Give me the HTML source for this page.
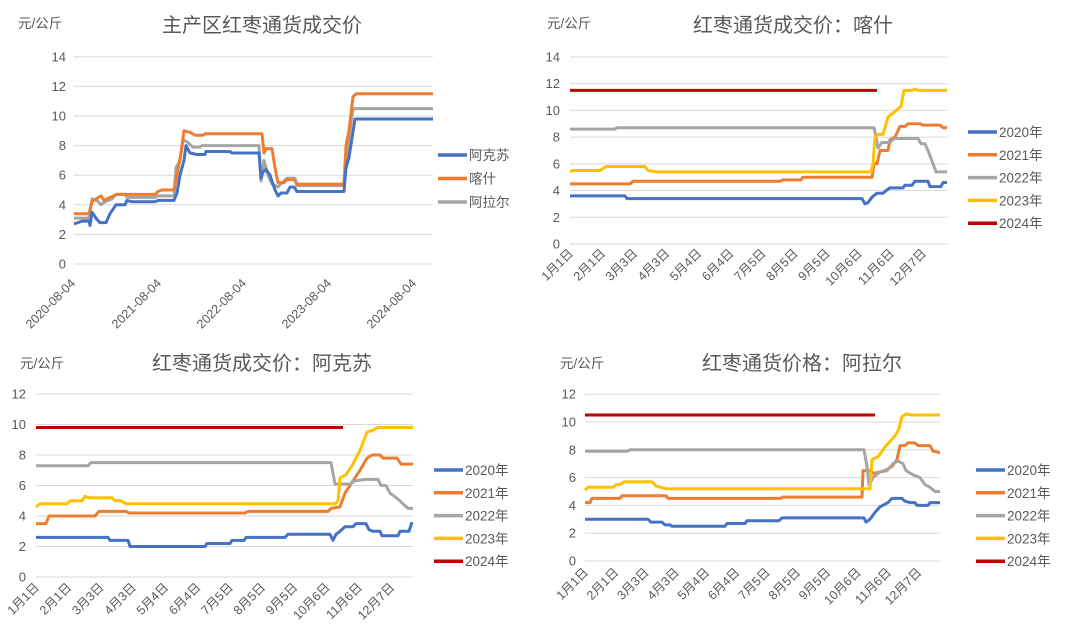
<!DOCTYPE html>
<html><head><meta charset="utf-8"><style>
html,body{margin:0;padding:0;background:#fff;}
svg{display:block;}
text{font-family:"Liberation Sans","Noto Sans CJK SC",sans-serif;fill:#595959;}
</style></head><body>
<svg id="s" width="1080" height="629" xmlns="http://www.w3.org/2000/svg"></svg>
<script>
const S=document.getElementById('s');const NS='http://www.w3.org/2000/svg';
function el(t,a,txt){const e=document.createElementNS(NS,t);for(const k in a)e.setAttribute(k,a[k]);if(txt!==undefined)e.textContent=txt;S.appendChild(e);return e;}
const C={b:'#4472c4',o:'#ed7d31',g:'#a5a5a5',y:'#ffc000',r:'#c00000'};
function panel(p){
  const {x0,x1,y0,pu,ymax,lblX}=p;
  for(let v=0;v<=ymax;v+=2){const y=y0-v*pu;el('line',{x1:x0,x2:x1,y1:y,y2:y,stroke:'#d9d9d9','stroke-width':1});
    el('text',{x:lblX,y:y+4.5,'font-size':13,'text-anchor':'end'},String(v));}
  el('text',{x:p.ux,y:p.uy,'font-size':13.5},'元/公斤');
  el('text',{x:p.tx,y:p.ty,'font-size':20,'text-anchor':'middle',fill:'#595959'},p.title);
  p.xl.forEach(([x,t])=>{el('text',{x:x,y:p.xly,'font-size':12.5,'text-anchor':'end',transform:`rotate(-45 ${x} ${p.xly})`},t);});
  p.series.forEach(([c,pts])=>{el('polyline',{points:pts.map(([x,v])=>x+','+(y0-v*pu).toFixed(1)).join(' '),fill:'none',stroke:C[c],'stroke-width':3,'stroke-linejoin':'round'});});
  p.leg.forEach(([c,t],i)=>{const y=p.ly+i*p.ld;el('line',{x1:p.lx,x2:p.lx+29,y1:y,y2:y,stroke:C[c],'stroke-width':3.5});el('text',{x:p.lx+31,y:y+5,'font-size':13.5},t);});
}
const months=['1月1日','2月1日','3月3日','4月3日','5月4日','6月4日','7月5日','8月5日','9月5日','10月6日','11月6日','12月7日'];
function ml(x0,step){return months.map((m,i)=>[x0+i*step+4,m]);}
const yrs=[['b','2020年'],['o','2021年'],['g','2022年'],['y','2023年'],['r','2024年']];
panel({x0:74,x1:433,y0:264,pu:14.8,ymax:14,lblX:66,ux:18,uy:28,tx:262,ty:32,title:'主产区红枣通货成交价',xly:284,
 xl:[[74,'2020-08-04'],[160,'2021-08-04'],[245,'2022-08-04'],[330,'2023-08-04'],[415,'2024-08-04']].map(([x,t])=>[x+2,t]),
 lx:438,ly:155,ld:23.5,leg:[['b','阿克苏'],['o','喀什'],['g','阿拉尔']],
 series:[
 ['g',[[74,3.1],[89,3.1],[92,4.4],[97,4.3],[101,4.0],[105,4.2],[112,4.4],[116,4.7],[125,4.7],[127,4.5],[155,4.5],[158,4.6],[174,4.6],[176,6.5],[180,7.0],[183,8.4],[188,8.2],[193,7.9],[200,7.9],[202,8.0],[259,8.0],[261,5.6],[264,7.0],[268,6.0],[272,5.4],[278,5.2],[282,5.5],[287,5.8],[295,5.8],[297,5.3],[344,5.3],[346,7],[350,9],[353,10.5],[433,10.5]]],
 ['o',[[74,3.4],[89,3.4],[92,4.2],[96,4.4],[101,4.6],[104,4.3],[110,4.5],[117,4.7],[155,4.7],[158,4.9],[162,5.0],[174,5.0],[177,6.0],[181,7.5],[184,9.0],[190,8.9],[195,8.7],[203,8.7],[205,8.8],[262,8.8],[264,7.5],[266,7.8],[272,7.8],[275,6.5],[278,5.5],[284,5.5],[287,5.7],[294,5.7],[297,5.4],[344,5.4],[346,8],[349,9],[353,11.3],[356,11.5],[433,11.5]]],
 ['b',[[74,2.7],[82,2.9],[89,2.9],[90,2.6],[92,3.5],[97,3.0],[100,2.8],[106,2.8],[110,3.4],[112,3.6],[116,4.0],[125,4.0],[127,4.3],[132,4.2],[155,4.2],[158,4.3],[174,4.3],[177,4.8],[180,6.0],[184,7.0],[186,8.0],[190,7.5],[197,7.4],[205,7.4],[206,7.6],[230,7.6],[232,7.5],[259,7.5],[261,5.8],[263,6.2],[266,6.4],[270,6.0],[275,5.0],[278,4.6],[281,4.8],[287,4.8],[290,5.2],[294,5.2],[297,4.9],[344,4.9],[346,6.5],[349,7.2],[352,8.5],[355,9.8],[433,9.8]]]
 ]});
panel({x0:570,x1:947,y0:244,pu:13.36,ymax:14,lblX:560,ux:547,uy:28,tx:793,ty:32,title:'红枣通货成交价：喀什',xly:254,
 xl:ml(570,32.1),lx:968,ly:132,ld:22.8,leg:yrs,
 series:[
 ['b',[[570,3.6],[625,3.6],[627,3.4],[862,3.4],[865,3.0],[868,3.1],[872,3.5],[877,3.8],[883,3.8],[886,4.0],[890,4.2],[903,4.2],[905,4.4],[912,4.4],[915,4.7],[928,4.7],[930,4.3],[941,4.3],[943,4.6],[947,4.6]]],
 ['o',[[570,4.5],[630,4.5],[633,4.7],[780,4.7],[783,4.8],[801,4.8],[803,5.0],[872,5.0],[874,6.0],[877,6.0],[880,7.0],[888,7.0],[890,7.8],[895,8.0],[900,8.8],[905,8.8],[908,9.0],[920,9.0],[923,8.9],[940,8.9],[943,8.7],[947,8.7]]],
 ['g',[[570,8.6],[615,8.6],[617,8.7],[874,8.7],[876,8.0],[878,7.2],[882,7.6],[890,7.6],[894,7.9],[918,7.9],[921,7.5],[925,7.5],[928,7.0],[933,6.0],[936,5.4],[947,5.4]]],
 ['y',[[570,5.4],[573,5.5],[600,5.5],[606,5.8],[645,5.8],[648,5.5],[657,5.4],[871,5.4],[873,6.0],[875,8.0],[878,8.2],[883,8.2],[888,9.5],[893,9.8],[901,10.3],[904,11.5],[912,11.5],[915,11.6],[918,11.5],[947,11.5]]],
 ['r',[[570,11.5],[877,11.5]]]
 ]});
panel({x0:36,x1:413,y0:577,pu:15.25,ymax:12,lblX:26,ux:20,uy:368,tx:262,ty:370,title:'红枣通货成交价：阿克苏',xly:588,
 xl:ml(36,32.3),lx:434,ly:470,ld:22.8,leg:yrs,
 series:[
 ['b',[[36,2.6],[108,2.6],[110,2.4],[128,2.4],[130,2.0],[205,2.0],[207,2.2],[230,2.2],[232,2.4],[244,2.4],[246,2.6],[285,2.6],[288,2.8],[330,2.8],[333,2.4],[336,2.8],[340,3.0],[345,3.3],[353,3.3],[356,3.5],[366,3.5],[369,3.1],[373,3.0],[380,3.0],[382,2.7],[398,2.7],[400,3.0],[409,3.0],[412,3.6]]],
 ['o',[[36,3.5],[46,3.5],[49,4.0],[95,4.0],[99,4.3],[126,4.3],[129,4.2],[245,4.2],[248,4.3],[328,4.3],[331,4.5],[340,4.6],[345,5.5],[352,6.2],[360,7.0],[367,7.8],[372,8.0],[380,8.0],[383,7.8],[397,7.8],[401,7.4],[413,7.4]]],
 ['g',[[36,7.3],[88,7.3],[91,7.5],[331,7.5],[335,6.1],[350,6.1],[355,6.3],[365,6.4],[378,6.4],[381,6.0],[386,6.0],[390,5.5],[398,5.1],[403,4.8],[408,4.5],[413,4.5]]],
 ['y',[[36,4.6],[40,4.8],[67,4.8],[70,5.0],[82,5.0],[85,5.3],[88,5.2],[112,5.2],[115,5.0],[121,5.0],[126,4.8],[335,4.8],[338,5.0],[340,6.5],[346,6.7],[352,7.3],[360,8.3],[367,9.5],[372,9.6],[378,9.8],[413,9.8]]],
 ['r',[[36,9.8],[343,9.8]]]
 ]});
panel({x0:585,x1:940,y0:561,pu:13.9,ymax:12,lblX:576,ux:560,uy:368,tx:802,ty:370,title:'红枣通货价格：阿拉尔',xly:573,
 xl:ml(585,30.3),lx:976,ly:470,ld:22.8,leg:yrs,
 series:[
 ['b',[[585,3.0],[648,3.0],[651,2.8],[662,2.8],[665,2.6],[670,2.6],[672,2.5],[725,2.5],[727,2.7],[745,2.7],[747,2.9],[779,2.9],[782,3.1],[864,3.1],[866,2.8],[870,3.0],[875,3.5],[880,3.9],[888,4.2],[892,4.5],[902,4.5],[905,4.3],[910,4.2],[915,4.2],[917,4.0],[928,4.0],[930,4.2],[940,4.2]]],
 ['o',[[585,4.2],[590,4.2],[592,4.5],[620,4.5],[622,4.7],[666,4.7],[668,4.5],[780,4.5],[783,4.6],[862,4.6],[863,6.5],[870,6.5],[874,6.3],[885,6.5],[892,6.8],[897,7.3],[900,8.3],[905,8.3],[908,8.5],[915,8.5],[918,8.3],[930,8.3],[933,7.9],[940,7.8]]],
 ['g',[[585,7.9],[628,7.9],[630,8.0],[864,8.0],[867,6.8],[869,5.5],[873,6.0],[880,6.4],[887,6.5],[893,7.0],[898,7.2],[903,7.0],[906,6.5],[913,6.2],[920,6.0],[925,5.5],[930,5.3],[935,5.0],[940,5.0]]],
 ['y',[[585,5.1],[588,5.3],[613,5.3],[616,5.5],[620,5.5],[624,5.7],[652,5.7],[656,5.4],[666,5.2],[863,5.2],[870,5.2],[872,7.3],[878,7.5],[885,8.2],[895,9.0],[899,9.5],[902,10.4],[907,10.6],[910,10.5],[940,10.5]]],
 ['r',[[585,10.5],[875,10.5]]]
 ]});
</script>
</body></html>
